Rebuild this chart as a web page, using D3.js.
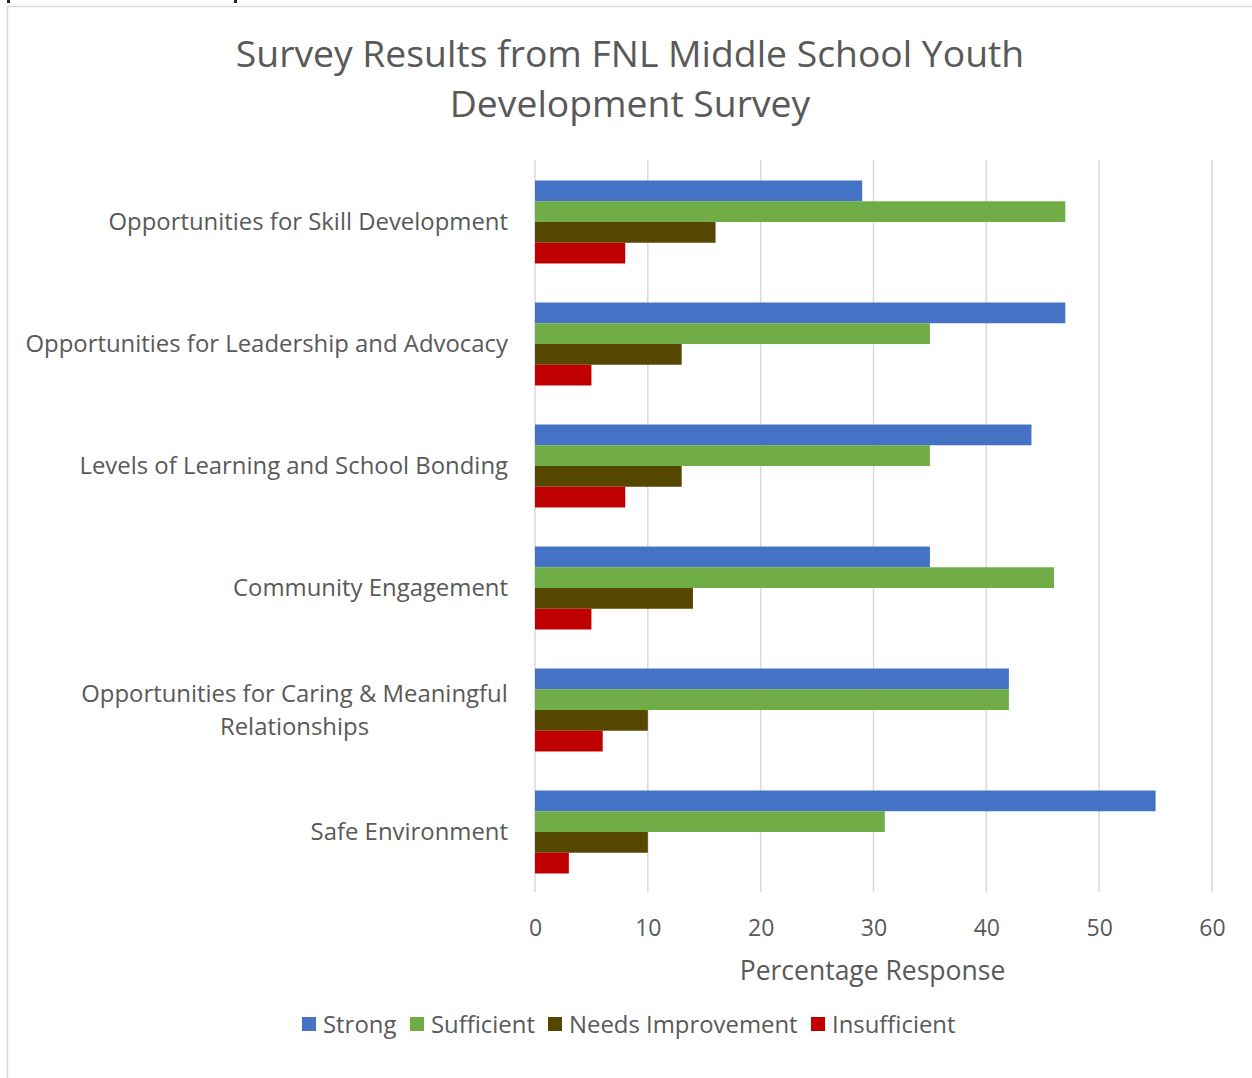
<!DOCTYPE html>
<html>
<head>
<meta charset="utf-8">
<script src="https://cdn.jsdelivr.net/npm/d3@7"></script>
<style>
  html, body { margin: 0; padding: 0; background: #fff; }
  svg { display: block; font-family: "Open Sans", sans-serif; }
</style>
</head>
<body>
<svg id="chart" width="1252" height="1078"></svg>
<script>
// Survey categories, top to bottom
const categories = [
  ["Opportunities for Skill Development"],
  ["Opportunities for Leadership and Advocacy"],
  ["Levels of Learning and School Bonding"],
  ["Community Engagement"],
  ["Opportunities for Caring & Meaningful", "Relationships"],
  ["Safe Environment"]
];
const seriesNames = ["Strong", "Sufficient", "Needs Improvement", "Insufficient"];
const seriesColors = ["#4472C4", "#70AD47", "#564700", "#C00000"];

// Percentage response per category, one array per series
const strong       = [29, 47, 44, 35, 42, 55];
const sufficient   = [47, 35, 35, 46, 42, 31];
const needsImprove = [16, 13, 13, 14, 10, 10];
const insufficient = [8, 5, 8, 5, 6, 3];
const seriesValues = [strong, sufficient, needsImprove, insufficient];

const xTicks = [0, 10, 20, 30, 40, 50, 60];

const svg = d3.select("#chart");
const textColor = "#595959";
const gridColor = "#d9d9d9";

// chart frame
svg.append("rect")
  .attr("x", 7.5).attr("y", 6.5)
  .attr("width", 1260).attr("height", 1080)
  .attr("fill", "#fff").attr("stroke", gridColor).attr("stroke-width", 1.5);

// small marks of neighbouring content above the frame
svg.append("rect").attr("x", 7).attr("y", 0).attr("width", 3).attr("height", 3).attr("fill", "#222");
svg.append("rect").attr("x", 234).attr("y", 0).attr("width", 3).attr("height", 3).attr("fill", "#222");

// title
const title = svg.append("text")
  .attr("text-anchor", "middle")
  .attr("fill", textColor)
  .style("font-size", "37.3px");
title.append("tspan").attr("x", 630).attr("y", 67).text("Survey Results from FNL Middle School Youth");
title.append("tspan").attr("x", 630).attr("y", 117).text("Development Survey");

const plot = { left: 535, right: 1212, top: 160, bottom: 892 };

const x = d3.scaleLinear().domain([0, 60]).range([plot.left, plot.right]);
const y = d3.scaleBand()
  .domain(d3.range(categories.length))
  .range([plot.top, plot.bottom])
  .paddingInner(0.32).paddingOuter(0.16);
const ySub = d3.scaleBand()
  .domain(d3.range(seriesNames.length))
  .range([0, y.bandwidth()]);

// vertical gridlines
svg.append("g")
  .selectAll("line")
  .data(xTicks)
  .join("line")
  .attr("x1", d => x(d)).attr("x2", d => x(d))
  .attr("y1", plot.top).attr("y2", plot.bottom)
  .attr("stroke", gridColor).attr("stroke-width", 1.5);

// bars
const groups = svg.append("g")
  .selectAll("g")
  .data(categories.map((c, i) => i))
  .join("g")
  .attr("transform", i => `translate(0,${y(i) + 1})`);

groups.selectAll("rect")
  .data(i => seriesValues.map((vals, s) => ({ s, v: vals[i] })))
  .join("rect")
  .attr("x", x(0))
  .attr("y", d => ySub(d.s))
  .attr("width", d => x(d.v) - x(0))
  .attr("height", ySub.bandwidth())
  .attr("fill", d => seriesColors[d.s]);

// category labels
const labels = svg.append("g")
  .selectAll("text")
  .data(categories)
  .join("text")
  .attr("fill", textColor)
  .attr("text-anchor", (d) => d.length > 1 ? "middle" : "end")
  .style("font-size", "23.9px");

labels.each(function (lines, i) {
  const cy = y(i) + y.bandwidth() / 2;
  const lh = 33;
  const t = d3.select(this);
  if (lines.length === 1) {
    t.append("tspan").attr("x", 508).attr("y", cy + 9).text(lines[0]);
  } else {
    lines.forEach((ln, k) => {
      t.append("tspan")
        .attr("x", 294.5)
        .attr("y", cy + 9 + (k - (lines.length - 1) / 2) * lh)
        .text(ln);
    });
  }
});

// x axis tick labels
const xAxis = d3.axisBottom(x).tickValues(xTicks).tickSize(0).tickPadding(0);
const axisG = svg.append("g")
  .attr("transform", `translate(0,${plot.bottom + 28})`)
  .call(xAxis);
axisG.select(".domain").remove();
axisG.selectAll("text")
  .attr("fill", textColor)
  .style("font-size", "23px")
  .style("font-family", "'Open Sans', sans-serif");

// axis title
svg.append("text")
  .attr("x", (plot.left + plot.right) / 2 - 1)
  .attr("y", 980)
  .attr("text-anchor", "middle")
  .attr("fill", textColor)
  .style("font-size", "26.5px")
  .text("Percentage Response");

// legend
const legendItems = [
  { name: seriesNames[0], color: seriesColors[0], x: 302 },
  { name: seriesNames[1], color: seriesColors[1], x: 410 },
  { name: seriesNames[2], color: seriesColors[2], x: 548 },
  { name: seriesNames[3], color: seriesColors[3], x: 811 }
];
const leg = svg.append("g")
  .selectAll("g")
  .data(legendItems)
  .join("g")
  .attr("transform", d => `translate(${d.x},1017)`);
leg.append("rect").attr("width", 14).attr("height", 14).attr("fill", d => d.color);
leg.append("text")
  .attr("x", 21).attr("y", 16)
  .attr("fill", textColor)
  .style("font-size", "23.9px")
  .text(d => d.name);
</script>
</body>
</html>
